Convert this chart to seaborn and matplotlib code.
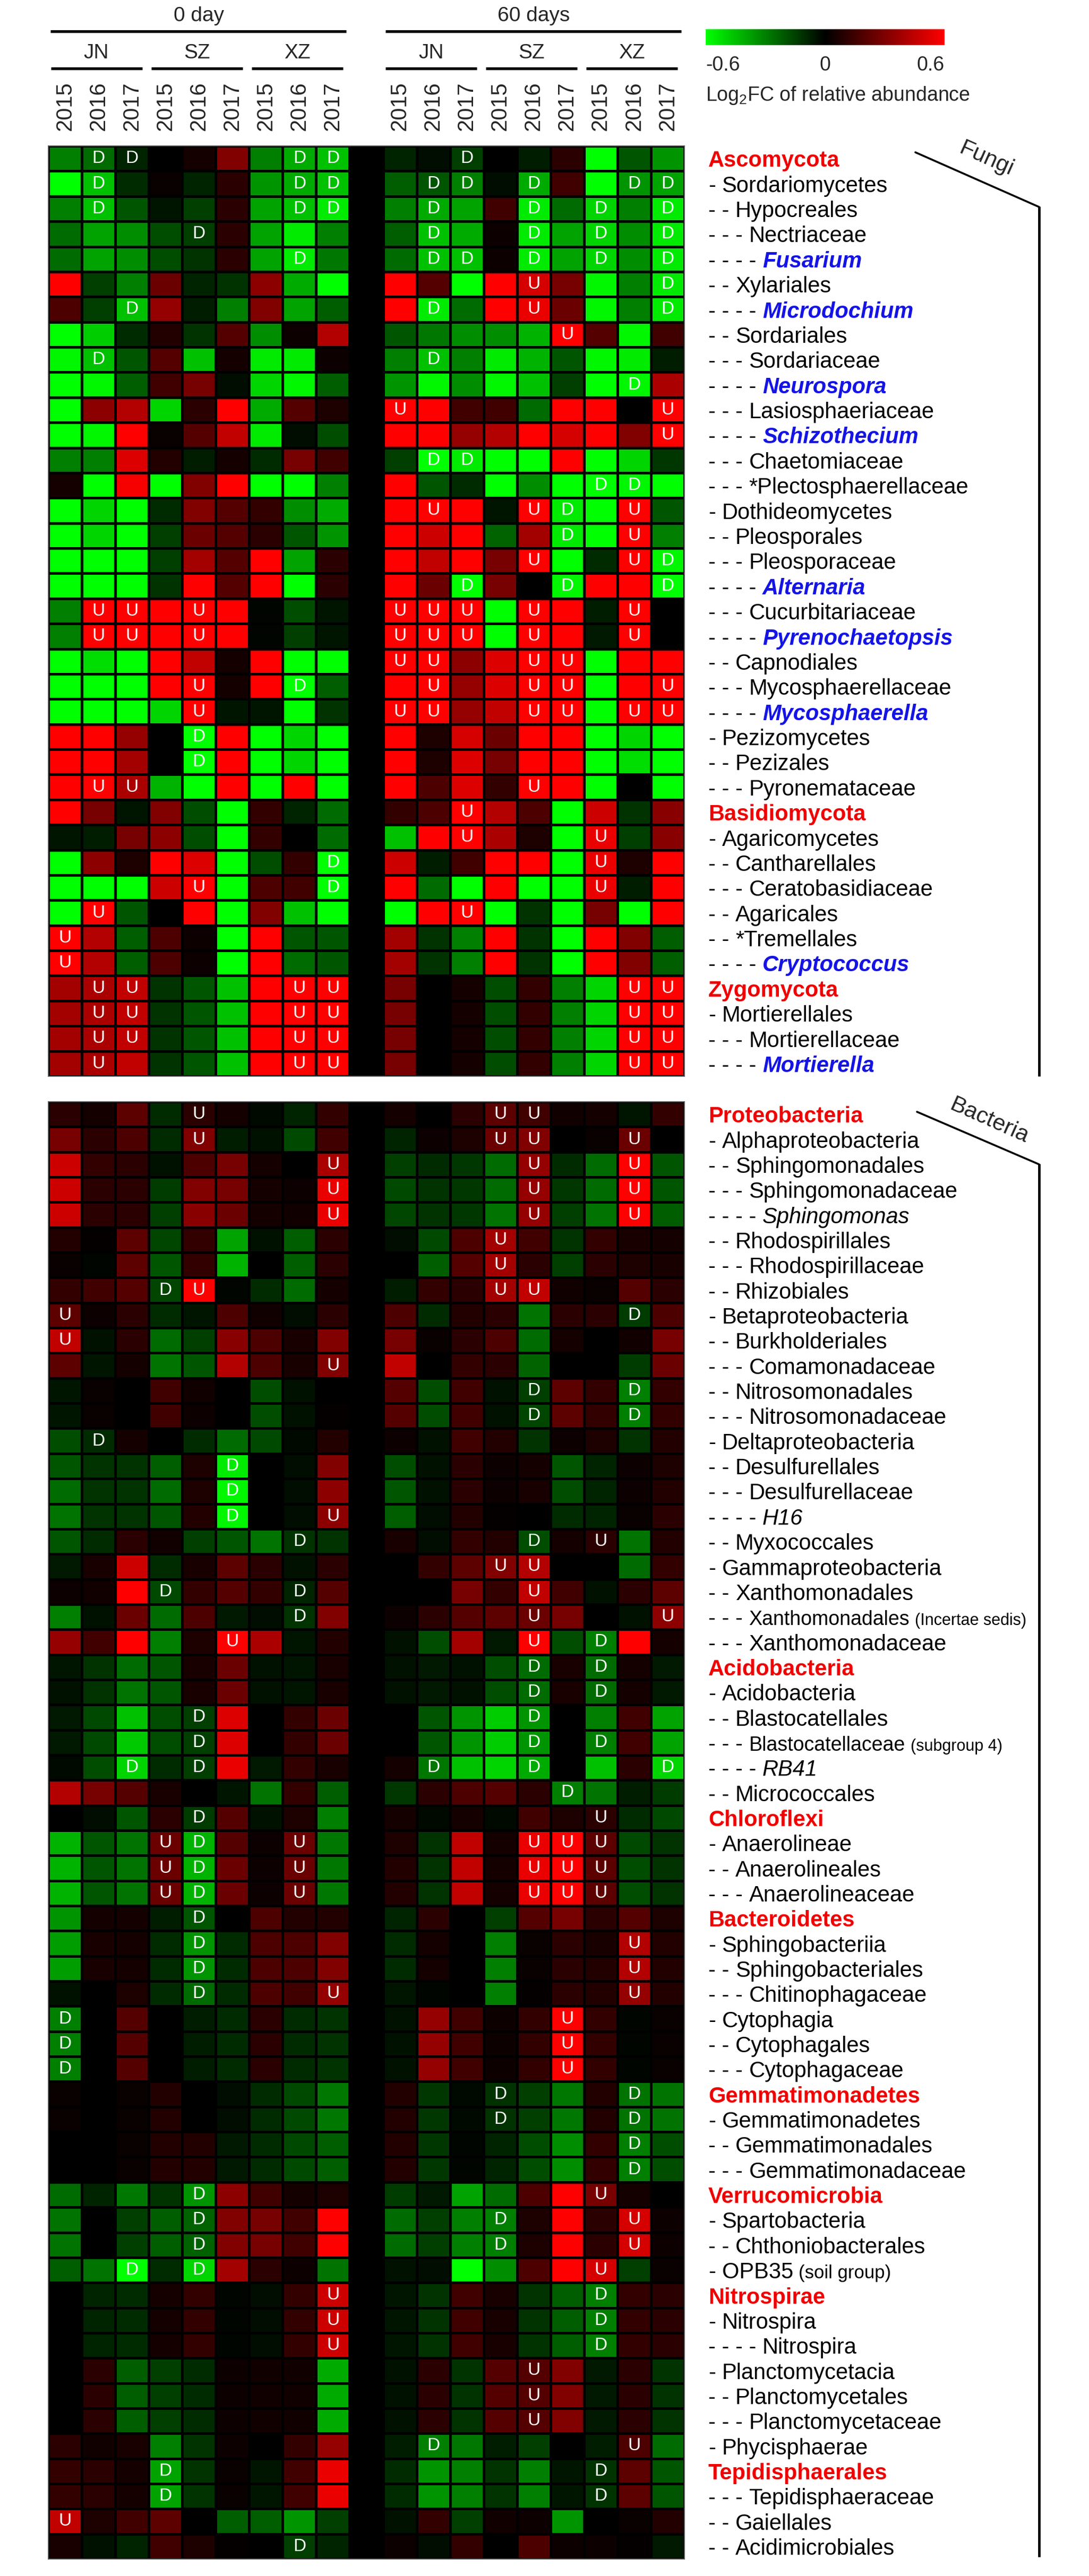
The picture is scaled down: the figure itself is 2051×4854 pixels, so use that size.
import numpy as np
import pandas as pd
import matplotlib
matplotlib.use("Agg")
import matplotlib.pyplot as plt
import seaborn as sns
from matplotlib.colors import LinearSegmentedColormap, Normalize
from matplotlib.lines import Line2D
import matplotlib.transforms as mtransforms
import matplotlib.colorbar as mcolorbar
from matplotlib import font_manager

# ---------------- data ----------------
days = ["0 day", "60 days"]
sites = ["JN", "SZ", "XZ"]
years = ["2015", "2016", "2017"]
cbar_ticks = ["-0.6", "0", "0.6"]

fungi_labels = [
    "Ascomycota", "- Sordariomycetes", "- - Hypocreales", "- - - Nectriaceae", "- - - - Fusarium",
    "- - Xylariales", "- - - - Microdochium", "- - Sordariales", "- - - Sordariaceae", "- - - - Neurospora",
    "- - - Lasiosphaeriaceae", "- - - - Schizothecium", "- - - Chaetomiaceae", "- - - *Plectosphaerellaceae",
    "- Dothideomycetes", "- - Pleosporales", "- - - Pleosporaceae", "- - - - Alternaria", "- - - Cucurbitariaceae",
    "- - - - Pyrenochaetopsis", "- - Capnodiales", "- - - Mycosphaerellaceae", "- - - - Mycosphaerella",
    "- Pezizomycetes", "- - Pezizales", "- - - Pyronemataceae", "Basidiomycota", "- Agaricomycetes",
    "- - Cantharellales", "- - - Ceratobasidiaceae", "- - Agaricales", "- - *Tremellales", "- - - - Cryptococcus",
    "Zygomycota", "- Mortierellales", "- - - Mortierellaceae", "- - - - Mortierella"]
fungi_kinds = "PNNNGNGNNG" + "NGNNNNNGNG" + "NNGNNNPNNN" + "NNGPNNG"

fungi_day0 = [
    [-0.30, -0.25, -0.08, 0.00, 0.05, 0.30, -0.30, -0.40, -0.45],
    [-0.60, -0.45, -0.10, 0.02, -0.08, 0.10, -0.35, -0.40, -0.45],
    [-0.30, -0.45, -0.20, -0.05, -0.15, 0.10, -0.38, -0.45, -0.55],
    [-0.25, -0.38, -0.33, -0.18, -0.15, 0.10, -0.38, -0.55, -0.30],
    [-0.25, -0.38, -0.33, -0.18, -0.12, 0.10, -0.38, -0.55, -0.28],
    [0.60, -0.15, -0.30, 0.25, -0.08, -0.12, 0.33, -0.40, -0.60],
    [0.18, -0.15, -0.45, 0.35, -0.07, -0.30, 0.30, -0.38, -0.22],
    [-0.60, -0.48, -0.10, 0.08, -0.12, 0.20, -0.33, 0.03, 0.42],
    [-0.58, -0.45, -0.20, 0.20, -0.45, 0.05, -0.55, -0.55, 0.03],
    [-0.60, -0.58, -0.22, 0.15, 0.28, -0.03, -0.50, -0.58, -0.22],
    [-0.60, 0.33, 0.42, -0.50, 0.10, 0.60, -0.40, 0.20, 0.07],
    [-0.60, -0.58, 0.60, 0.02, 0.20, 0.45, -0.55, -0.03, -0.18],
    [-0.30, -0.30, 0.52, 0.08, -0.07, 0.05, -0.10, 0.28, 0.15],
    [0.05, -0.60, 0.58, -0.60, 0.30, 0.60, -0.60, -0.60, -0.30],
    [-0.60, -0.50, -0.60, -0.10, 0.30, 0.20, 0.12, -0.33, -0.40],
    [-0.60, -0.50, -0.60, -0.15, 0.25, 0.20, 0.10, -0.20, -0.35],
    [-0.60, -0.60, -0.60, -0.15, 0.38, 0.20, 0.60, -0.38, 0.10],
    [-0.60, -0.60, -0.60, -0.12, 0.60, 0.20, 0.60, -0.60, 0.10],
    [-0.30, 0.60, 0.60, 0.60, 0.60, 0.60, -0.01, -0.18, -0.05],
    [-0.30, 0.60, 0.60, 0.60, 0.60, 0.60, -0.01, -0.15, -0.05],
    [-0.60, -0.52, -0.60, 0.60, 0.45, 0.05, 0.60, -0.60, -0.60],
    [-0.60, -0.60, -0.60, 0.60, 0.60, 0.05, 0.60, -0.60, -0.22],
    [-0.60, -0.60, -0.60, -0.50, 0.60, -0.05, -0.05, -0.60, -0.12],
    [0.60, 0.60, 0.35, 0.00, -0.60, 0.60, -0.60, -0.50, -0.60],
    [0.60, 0.60, 0.38, 0.00, -0.60, 0.60, -0.60, -0.50, -0.60],
    [0.60, 0.60, 0.40, -0.42, -0.60, 0.60, -0.60, 0.60, -0.60],
    [0.60, 0.28, -0.05, 0.30, -0.18, -0.60, 0.12, -0.08, -0.25],
    [-0.05, -0.07, 0.28, 0.33, -0.18, -0.60, 0.12, 0.00, -0.25],
    [-0.60, 0.33, 0.07, 0.60, 0.52, -0.60, -0.18, 0.12, -0.60],
    [-0.60, -0.60, -0.60, 0.48, 0.60, -0.60, 0.18, 0.15, -0.60],
    [-0.60, 0.60, -0.20, 0.00, 0.60, -0.60, 0.30, -0.45, -0.60],
    [0.60, 0.42, -0.22, 0.18, 0.03, -0.60, 0.60, -0.20, -0.20],
    [0.60, 0.42, -0.22, 0.18, 0.03, -0.60, 0.60, -0.25, -0.20],
    [0.38, 0.40, 0.45, -0.12, -0.20, -0.45, 0.60, 0.60, 0.60],
    [0.38, 0.40, 0.45, -0.12, -0.20, -0.45, 0.60, 0.60, 0.60],
    [0.38, 0.40, 0.45, -0.12, -0.20, -0.45, 0.60, 0.60, 0.60],
    [0.38, 0.40, 0.45, -0.12, -0.20, -0.45, 0.60, 0.60, 0.60]]

fungi_day60 = [
    [-0.08, -0.03, -0.15, 0.00, -0.07, 0.10, -0.60, -0.20, -0.35],
    [-0.22, -0.20, -0.30, -0.03, -0.40, 0.15, -0.60, -0.35, -0.38],
    [-0.30, -0.40, -0.38, 0.15, -0.55, -0.25, -0.50, -0.30, -0.55],
    [-0.22, -0.45, -0.40, 0.03, -0.55, -0.38, -0.50, -0.33, -0.55],
    [-0.25, -0.45, -0.45, 0.03, -0.55, -0.38, -0.50, -0.33, -0.55],
    [0.60, 0.20, -0.60, 0.60, 0.50, 0.28, -0.58, -0.30, -0.55],
    [0.60, -0.55, -0.25, 0.60, 0.55, 0.25, -0.58, -0.30, -0.55],
    [-0.20, -0.28, -0.33, -0.33, -0.42, 0.60, 0.20, -0.58, 0.15],
    [-0.30, -0.45, -0.30, -0.55, -0.42, -0.20, -0.58, -0.55, -0.07],
    [-0.35, -0.58, -0.33, -0.58, -0.45, -0.15, -0.60, -0.58, 0.40],
    [0.60, 0.60, 0.15, 0.15, -0.25, 0.60, 0.60, 0.00, 0.60],
    [0.60, 0.60, 0.35, 0.42, 0.60, 0.50, 0.60, 0.30, 0.60],
    [-0.15, -0.60, -0.55, -0.60, -0.60, 0.60, -0.60, -0.50, -0.13],
    [0.60, -0.20, -0.10, -0.60, -0.33, -0.60, -0.60, -0.58, -0.60],
    [0.60, 0.60, 0.60, -0.05, 0.60, -0.55, -0.60, 0.60, -0.20],
    [0.60, 0.48, 0.60, -0.23, 0.38, -0.55, -0.60, 0.60, -0.30],
    [0.60, 0.45, 0.60, 0.28, 0.60, -0.60, -0.10, 0.60, -0.58],
    [0.60, 0.25, -0.60, 0.28, 0.00, -0.58, 0.60, 0.60, -0.60],
    [0.60, 0.60, 0.60, -0.60, 0.60, 0.60, -0.07, 0.60, 0.00],
    [0.60, 0.60, 0.60, -0.60, 0.60, 0.60, -0.06, 0.60, 0.00],
    [0.60, 0.60, 0.33, 0.52, 0.60, 0.60, -0.60, 0.60, 0.60],
    [0.60, 0.60, 0.35, 0.52, 0.60, 0.60, -0.60, 0.60, 0.60],
    [0.60, 0.60, 0.35, 0.45, 0.60, 0.60, -0.60, 0.60, 0.60],
    [0.60, 0.07, 0.50, 0.25, 0.60, 0.60, -0.60, -0.50, -0.60],
    [0.60, 0.07, 0.52, 0.28, 0.60, 0.60, -0.60, -0.52, -0.60],
    [0.60, 0.18, 0.52, 0.12, 0.60, 0.60, -0.60, 0.00, -0.60],
    [0.12, 0.18, 0.60, 0.42, 0.18, -0.60, 0.48, -0.12, 0.32],
    [-0.45, 0.60, 0.60, 0.40, 0.07, -0.60, 0.55, -0.15, 0.32],
    [0.48, -0.07, 0.15, 0.60, 0.60, -0.60, 0.55, 0.07, 0.60],
    [0.60, -0.25, -0.60, 0.60, -0.60, -0.60, 0.55, -0.07, 0.60],
    [-0.60, 0.60, 0.60, -0.60, -0.12, -0.60, 0.28, -0.60, 0.60],
    [0.38, -0.12, -0.30, 0.60, -0.12, -0.60, 0.60, 0.30, -0.22],
    [0.38, -0.12, -0.30, 0.60, -0.12, -0.60, 0.60, 0.30, -0.22],
    [0.28, 0.00, 0.05, -0.18, 0.12, -0.30, -0.50, 0.60, 0.60],
    [0.28, 0.00, 0.05, -0.18, 0.12, -0.30, -0.50, 0.60, 0.60],
    [0.28, 0.00, 0.05, -0.18, 0.12, -0.30, -0.50, 0.60, 0.60],
    [0.28, 0.00, 0.05, -0.18, 0.12, -0.30, -0.50, 0.60, 0.60]]

# significance marks: U = up, D = down, . = none
fungi_sig0 = [".DD....DD", ".D.....DD", ".D.....DD", "....D....", ".......D.", ".........", "..D......",
              ".........", ".D.......", ".........", ".........", ".........", ".........", ".........",
              ".........", ".........", ".........", ".........", ".UU.U....", ".UU.U....", ".........",
              "....U..D.", "....U....", "....D....", "....D....", ".UU......", ".........", ".........",
              "........D", "....U...D", ".U.......", "U........", "U........", ".UU....UU", ".UU....UU",
              ".UU....UU", ".U.....UU"]
fungi_sig60 = ["..D......", ".DD.D..DD", ".D..D.D.D", ".D..D.D.D", ".DD.D.D.D", "....U...D", ".D..U...D",
               ".....U...", ".D.......", ".......D.", "U.......U", "........U", ".DD......", "......DD.",
               ".U..UD.U.", ".....D.U.", "....U..UD", "..D..D..D", "UUU.U..U.", "UUU.U..U.", "UU..UU...",
               ".U..UU..U", "UU..UU.UU", ".........", ".........", "....U....", "..U......", "..U...U..",
               "......U..", "......U..", "..U......", ".........", ".........", ".......UU", ".......UU",
               ".......UU", ".......UU"]

bact_labels = [
    "Proteobacteria", "- Alphaproteobacteria", "- - Sphingomonadales", "- - - Sphingomonadaceae",
    "- - - - Sphingomonas", "- - Rhodospirillales", "- - - Rhodospirillaceae", "- - Rhizobiales",
    "- Betaproteobacteria", "- - Burkholderiales", "- - - Comamonadaceae", "- - Nitrosomonadales",
    "- - - Nitrosomonadaceae", "- Deltaproteobacteria", "- - Desulfurellales", "- - - Desulfurellaceae",
    "- - - - H16", "- - Myxococcales", "- Gammaproteobacteria", "- - Xanthomonadales",
    "- - - Xanthomonadales (Incertae sedis)", "- - - Xanthomonadaceae", "Acidobacteria", "- Acidobacteria",
    "- - Blastocatellales", "- - - Blastocatellaceae (subgroup 4)", "- - - - RB41", "- - Micrococcales",
    "Chloroflexi", "- Anaerolineae", "- - Anaerolineales", "- - - Anaerolineaceae", "Bacteroidetes",
    "- Sphingobacteriia", "- - Sphingobacteriales", "- - - Chitinophagaceae", "- Cytophagia",
    "- - Cytophagales", "- - - Cytophagaceae", "Gemmatimonadetes", "- Gemmatimonadetes",
    "- - Gemmatimonadales", "- - - Gemmatimonadaceae", "Verrucomicrobia", "- Spartobacteria",
    "- - Chthoniobacterales", "- OPB35 (soil group)", "Nitrospirae", "- Nitrospira", "- - - - Nitrospira",
    "- Planctomycetacia", "- - Planctomycetales", "- - - Planctomycetaceae", "- Phycisphaerae",
    "Tepidisphaerales", "- - - Tepidisphaeraceae", "- - Gaiellales", "- - Acidimicrobiales"]
bact_kinds = "PNNNINNNNN" + "NNNNNNINNN" + "NNPNNNINPN" + "NNPNNNNNNP" + "NNNPNNNPNN" + "NNNNPNNN"

bact_day0 = [
    [0.10, 0.05, 0.22, -0.10, 0.10, 0.05, -0.02, -0.08, 0.12],
    [0.28, 0.10, 0.18, -0.10, 0.30, -0.07, -0.04, -0.17, 0.15],
    [0.48, 0.12, 0.10, -0.04, 0.18, 0.28, 0.05, 0.00, 0.40],
    [0.48, 0.10, 0.10, -0.14, 0.30, 0.28, 0.05, 0.03, 0.55],
    [0.48, 0.10, 0.10, -0.15, 0.32, 0.25, 0.05, 0.04, 0.55],
    [0.08, 0.01, 0.22, -0.16, 0.12, -0.38, -0.04, -0.22, 0.10],
    [0.02, -0.01, 0.22, -0.20, 0.12, -0.42, 0.00, -0.22, 0.10],
    [0.12, 0.15, 0.20, -0.16, 0.60, -0.01, -0.10, -0.25, 0.05],
    [0.22, 0.03, 0.10, -0.10, -0.05, 0.18, 0.04, -0.03, 0.10],
    [0.45, -0.04, 0.10, -0.25, -0.15, 0.32, 0.18, 0.06, 0.30],
    [0.22, -0.05, 0.05, -0.27, -0.20, 0.42, 0.18, 0.06, 0.30],
    [-0.05, 0.02, 0.00, 0.15, 0.04, 0.00, -0.18, -0.04, 0.00],
    [-0.05, 0.02, 0.00, 0.15, 0.03, 0.00, -0.18, -0.04, 0.01],
    [-0.18, -0.10, 0.05, 0.00, -0.10, -0.25, -0.17, -0.02, 0.08],
    [-0.20, -0.12, -0.12, -0.22, 0.07, -0.55, 0.00, -0.03, 0.30],
    [-0.25, -0.12, -0.12, -0.25, 0.07, -0.58, 0.00, -0.03, 0.33],
    [-0.27, -0.12, -0.12, -0.20, 0.08, -0.58, 0.00, -0.03, 0.33],
    [-0.20, -0.10, 0.10, 0.04, -0.15, -0.20, -0.27, -0.12, -0.12],
    [-0.06, 0.06, 0.48, -0.10, 0.06, 0.22, 0.10, -0.04, 0.10],
    [0.03, 0.04, 0.60, -0.17, 0.12, 0.20, 0.12, -0.08, 0.20],
    [-0.30, -0.04, 0.25, -0.25, 0.18, -0.06, -0.03, -0.12, 0.30],
    [0.35, 0.15, 0.60, -0.30, 0.07, 0.60, 0.40, -0.05, 0.08],
    [-0.05, -0.12, -0.25, -0.20, 0.06, 0.25, -0.04, -0.05, 0.06],
    [-0.04, -0.12, -0.27, -0.20, 0.06, 0.25, -0.04, -0.05, 0.06],
    [-0.06, -0.17, -0.45, -0.18, -0.15, 0.52, 0.00, 0.12, 0.25],
    [-0.06, -0.17, -0.47, -0.18, -0.15, 0.52, 0.00, 0.12, 0.25],
    [-0.02, -0.18, -0.50, -0.10, -0.15, 0.55, -0.06, 0.12, 0.06],
    [0.42, 0.28, 0.20, 0.06, 0.00, -0.05, -0.27, 0.12, -0.22],
    [0.00, -0.03, -0.20, 0.10, -0.14, 0.20, -0.04, 0.07, -0.30],
    [-0.42, -0.20, -0.27, 0.25, -0.42, 0.20, 0.03, 0.25, -0.28],
    [-0.42, -0.20, -0.27, 0.25, -0.42, 0.25, 0.03, 0.25, -0.28],
    [-0.42, -0.20, -0.27, 0.25, -0.42, 0.25, 0.03, 0.25, -0.28],
    [-0.35, 0.05, 0.05, -0.07, -0.20, 0.00, 0.18, 0.08, 0.08],
    [-0.37, 0.06, 0.05, -0.10, -0.35, -0.10, 0.18, 0.18, 0.30],
    [-0.37, 0.06, 0.05, -0.10, -0.35, -0.10, 0.18, 0.18, 0.30],
    [-0.04, 0.00, 0.07, -0.10, -0.25, -0.10, 0.18, 0.15, 0.35],
    [-0.30, 0.00, 0.20, 0.00, -0.07, -0.10, 0.10, -0.10, -0.12],
    [-0.30, 0.00, 0.20, 0.00, -0.07, -0.10, 0.10, -0.10, -0.12],
    [-0.30, 0.00, 0.20, 0.00, -0.07, -0.10, 0.10, -0.10, -0.12],
    [0.02, 0.00, 0.02, 0.08, 0.00, -0.03, -0.10, -0.17, -0.28],
    [0.02, 0.00, 0.02, 0.08, 0.00, -0.03, -0.10, -0.17, -0.28],
    [0.00, 0.00, 0.02, 0.08, 0.08, -0.06, -0.10, -0.17, -0.22],
    [0.00, 0.00, 0.02, 0.08, 0.08, -0.06, -0.10, -0.17, -0.22],
    [-0.25, -0.08, -0.28, -0.12, -0.35, 0.33, 0.15, 0.05, 0.07],
    [-0.27, 0.00, -0.15, -0.22, -0.23, 0.30, 0.28, 0.15, 0.60],
    [-0.27, 0.00, -0.15, -0.22, -0.23, 0.30, 0.28, 0.15, 0.60],
    [-0.22, -0.27, -0.60, -0.10, -0.50, 0.38, 0.10, 0.03, -0.27],
    [0.00, -0.08, -0.10, 0.05, 0.12, -0.01, -0.03, 0.12, 0.48],
    [0.00, -0.08, -0.10, 0.05, 0.12, -0.01, -0.03, 0.12, 0.48],
    [0.00, -0.08, -0.10, 0.05, 0.12, -0.01, -0.03, 0.12, 0.48],
    [0.00, 0.10, -0.22, -0.15, -0.10, 0.03, 0.04, 0.04, -0.40],
    [0.00, 0.10, -0.22, -0.15, -0.10, 0.03, 0.04, 0.04, -0.40],
    [0.00, 0.10, -0.22, -0.15, -0.10, 0.03, 0.04, 0.04, -0.40],
    [0.10, 0.04, 0.06, -0.30, -0.12, 0.03, 0.00, 0.12, 0.35],
    [0.12, 0.10, 0.05, -0.38, -0.12, 0.02, -0.05, 0.15, 0.55],
    [0.12, 0.10, 0.05, -0.38, -0.12, 0.02, -0.05, 0.15, 0.55],
    [0.45, 0.07, 0.15, 0.22, 0.00, -0.22, -0.22, -0.35, -0.15],
    [0.06, -0.04, -0.08, 0.15, 0.07, 0.01, 0.00, -0.15, -0.08]]

bact_day60 = [
    [0.05, 0.00, 0.10, 0.22, 0.15, 0.04, 0.05, -0.05, 0.12],
    [-0.08, 0.03, 0.07, 0.25, 0.30, 0.00, 0.02, 0.25, 0.00],
    [-0.15, -0.10, -0.13, -0.25, 0.35, -0.10, -0.25, 0.60, -0.20],
    [-0.17, -0.12, -0.13, -0.25, 0.35, -0.13, -0.25, 0.60, -0.20],
    [-0.16, -0.12, -0.13, -0.27, 0.35, -0.15, -0.27, 0.60, -0.22],
    [-0.03, -0.17, 0.18, 0.38, 0.15, -0.12, 0.12, 0.06, 0.05],
    [0.00, -0.22, 0.20, 0.38, 0.10, -0.15, 0.10, 0.07, 0.06],
    [-0.07, 0.12, 0.10, 0.38, 0.45, 0.04, 0.02, 0.20, 0.10],
    [0.18, -0.10, 0.08, 0.10, -0.27, 0.10, 0.10, -0.14, 0.18],
    [0.28, 0.02, 0.10, 0.18, -0.25, 0.05, 0.00, 0.04, 0.28],
    [0.45, 0.00, 0.12, 0.10, -0.23, 0.00, 0.00, -0.14, 0.25],
    [0.20, -0.18, 0.15, -0.04, -0.15, 0.22, 0.12, -0.30, 0.12],
    [0.20, -0.18, 0.15, -0.04, -0.16, 0.22, 0.12, -0.30, 0.12],
    [0.03, -0.04, 0.15, 0.08, -0.12, 0.03, 0.07, -0.12, 0.08],
    [-0.18, -0.04, 0.10, 0.03, 0.05, -0.20, -0.08, 0.03, 0.07],
    [-0.20, -0.04, 0.10, 0.03, 0.06, -0.18, -0.08, 0.03, 0.08],
    [-0.22, -0.03, 0.08, 0.01, 0.00, -0.10, -0.08, 0.02, 0.10],
    [0.06, -0.03, 0.12, 0.08, -0.18, 0.05, 0.10, -0.27, 0.08],
    [0.00, 0.12, 0.22, 0.30, 0.42, 0.00, 0.00, -0.25, 0.12],
    [0.00, 0.00, 0.28, 0.12, 0.45, 0.15, -0.04, 0.10, 0.22],
    [0.03, 0.10, 0.20, 0.22, 0.25, 0.28, 0.00, -0.04, 0.33],
    [-0.04, -0.18, 0.38, -0.06, 0.60, -0.18, -0.30, 0.60, 0.05],
    [-0.04, -0.06, -0.04, -0.18, -0.25, 0.06, -0.25, 0.05, -0.06],
    [-0.04, -0.06, -0.04, -0.18, -0.25, 0.06, -0.25, 0.05, -0.06],
    [0.00, -0.20, -0.35, -0.48, -0.35, 0.00, -0.30, 0.15, -0.38],
    [0.00, -0.20, -0.35, -0.48, -0.35, 0.00, -0.30, 0.15, -0.38],
    [0.05, -0.28, -0.45, -0.50, -0.40, 0.00, -0.45, 0.10, -0.50],
    [-0.13, 0.10, 0.18, 0.20, 0.10, -0.30, -0.27, -0.07, -0.14],
    [0.05, -0.02, 0.05, -0.02, 0.15, 0.07, 0.10, -0.10, -0.17],
    [0.07, -0.12, 0.45, 0.05, 0.55, 0.60, 0.22, -0.17, -0.12],
    [0.08, -0.12, 0.45, 0.05, 0.55, 0.60, 0.22, -0.18, -0.12],
    [0.08, -0.12, 0.45, 0.05, 0.55, 0.60, 0.22, -0.18, -0.12],
    [-0.08, 0.10, 0.00, -0.15, 0.20, 0.28, 0.10, 0.20, 0.07],
    [-0.10, 0.05, 0.00, -0.30, 0.02, 0.10, 0.06, 0.42, 0.08],
    [-0.10, 0.05, 0.00, -0.30, 0.02, 0.10, 0.08, 0.42, 0.08],
    [-0.05, -0.01, 0.00, -0.30, 0.01, 0.10, 0.08, 0.35, 0.08],
    [-0.04, 0.35, 0.15, 0.03, 0.12, 0.60, 0.12, -0.01, 0.02],
    [-0.04, 0.35, 0.15, 0.03, 0.12, 0.60, 0.12, -0.01, 0.02],
    [-0.04, 0.35, 0.15, 0.03, 0.12, 0.60, 0.12, -0.01, 0.02],
    [0.08, -0.13, -0.02, -0.12, -0.15, -0.28, 0.08, -0.27, -0.27],
    [0.08, -0.13, -0.02, -0.12, -0.15, -0.28, 0.08, -0.27, -0.27],
    [0.08, -0.13, -0.01, -0.08, -0.18, -0.33, 0.12, -0.30, -0.18],
    [0.08, -0.13, -0.01, -0.08, -0.18, -0.33, 0.12, -0.30, -0.18],
    [-0.14, -0.06, -0.38, -0.25, 0.18, 0.60, 0.28, 0.05, 0.00],
    [-0.25, -0.15, -0.30, -0.30, 0.07, 0.60, 0.10, 0.50, 0.03],
    [-0.25, -0.15, -0.30, -0.30, 0.07, 0.60, 0.10, 0.50, 0.03],
    [-0.04, -0.03, -0.60, -0.33, 0.18, 0.60, 0.50, -0.15, 0.02],
    [-0.05, -0.12, 0.15, 0.06, -0.12, -0.22, -0.30, 0.12, 0.10],
    [-0.05, -0.12, 0.15, 0.06, -0.12, -0.22, -0.30, 0.12, 0.10],
    [-0.05, -0.12, 0.15, 0.06, -0.12, -0.22, -0.30, 0.12, 0.10],
    [-0.04, 0.10, -0.12, 0.20, 0.20, 0.30, -0.06, 0.10, -0.12],
    [-0.04, 0.10, -0.12, 0.20, 0.20, 0.30, -0.06, 0.10, -0.12],
    [-0.04, 0.10, -0.12, 0.20, 0.20, 0.30, -0.06, 0.10, -0.12],
    [-0.07, -0.30, -0.28, -0.07, -0.15, 0.00, -0.07, 0.18, -0.25],
    [-0.10, -0.35, -0.30, -0.12, -0.30, -0.05, -0.12, 0.22, -0.20],
    [-0.10, -0.35, -0.30, -0.12, -0.30, -0.05, -0.12, 0.22, -0.20],
    [-0.04, 0.12, -0.15, 0.04, 0.03, -0.35, 0.00, 0.02, 0.08],
    [0.03, -0.03, 0.12, 0.00, 0.18, 0.03, 0.03, 0.01, -0.06]]

bact_sig0 = ["....U....", "....U....", "........U", "........U", "........U", ".........", ".........",
             "...DU....", "U........", "U........", "........U", ".........", ".........", ".D.......",
             ".....D...", ".....D...", ".....D..U", ".......D.", ".........", "...D...D.", ".......D.",
             ".....U...", ".........", ".........", "....D....", "....D....", "..D.D....", ".........",
             "....D....", "...UD..U.", "...UD..U.", "...UD..U.", "....D....", "....D....", "....D....",
             "....D...U", "D........", "D........", "D........", ".........", ".........", ".........",
             ".........", "....D....", "....D....", "....D....", "..D.D....", "........U", "........U",
             "........U", ".........", ".........", ".........", ".........", "...D.....", "...D.....",
             "U........", ".......D."]
bact_sig60 = ["...UU....", "...UU..U.", "....U..U.", "....U..U.", "....U..U.", "...U.....", "...U.....",
              "...UU....", ".......D.", ".........", ".........", "....D..D.", "....D..D.", ".........",
              ".........", ".........", ".........", "....D.U..", "...UU....", "....U....", "....U...U",
              "....U.D..", "....D.D..", "....D.D..", "....D....", "....D.D..", ".D..D...D", ".....D...",
              "......U..", "....UUU..", "....UUU..", "....UUU..", ".........", ".......U.", ".......U.",
              ".......U.", ".....U...", ".....U...", ".....U...", "...D...D.", "...D...D.", ".......D.",
              ".......D.", "......U..", "...D...U.", "...D...U.", "......U..", "......D..", "......D..",
              "......D..", "....U....", "....U....", "....U....", ".D.....U.", "......D..", "......D..",
              ".........", "........."]

# ---------------- styling / layout ----------------
sns.set_theme(style="white")
plt.rcParams["font.family"] = ["Liberation Sans", "DejaVu Sans"]
plt.rcParams["mathtext.fontset"] = "custom"
plt.rcParams["mathtext.rm"] = "Liberation Sans"
plt.rcParams["mathtext.it"] = "Liberation Sans:italic"
plt.rcParams["mathtext.bf"] = "Liberation Sans:bold"

installed = {f.name for f in font_manager.fontManager.ttflist}
mark_family = ["Liberation Sans Narrow"] if "Liberation Sans Narrow" in installed else ["Liberation Sans"]

W, H = 2051, 4854
fig = plt.figure(figsize=(W / 100, H / 100), dpi=100)
fig.patch.set_facecolor("white")


def fx(px):
    return px / W


def fy(py):
    return 1 - py / H


cmap = LinearSegmentedColormap.from_list("gkr", ["#00FF00", "#000000", "#FF0000"])
HM_L, HM_R = 91, 1289
NCOL = 19
CW = (HM_R - HM_L) / NCOL
LABEL_X = 1334
DASH_W = 25.5

columns = [f"{days[0]} {s} {y}" for s in sites for y in years] + ["gap"] + \
          [f"{days[1]} {s} {y}" for s in sites for y in years]


def sig_row(s):
    return [c if c in "UD" else "" for c in s]


def draw_panel(top, bottom, labels, kinds, d0, d60, s0, s60):
    n = len(labels)
    vals = np.hstack([np.array(d0), np.full((n, 1), np.nan), np.array(d60)])
    ann = np.array([sig_row(a) + [""] + sig_row(b) for a, b in zip(s0, s60)])
    df = pd.DataFrame(vals, columns=columns)
    ax = fig.add_axes([fx(HM_L), fy(bottom), (HM_R - HM_L) / W, (bottom - top) / H])
    ax.set_facecolor("black")
    sns.heatmap(df, ax=ax, cmap=cmap, vmin=-0.6, vmax=0.6, cbar=False,
                linewidths=2.2, linecolor="black", annot=ann, fmt="",
                annot_kws={"color": "white", "fontsize": 24, "family": mark_family},
                xticklabels=False, yticklabels=False)
    ax.set_xlabel("")
    ax.set_ylabel("")
    for sp in ax.spines.values():
        sp.set_visible(True)
        sp.set_color("#555555")
        sp.set_linewidth(1.2)

    trans = mtransforms.blended_transform_factory(fig.transFigure, ax.transData)
    renderer = fig.canvas.get_renderer()
    for i, (lab, kind) in enumerate(zip(labels, kinds)):
        yb = i + 0.5 + 0.33
        nd = 0
        rest = lab
        while rest.startswith("- "):
            nd += 1
            rest = rest[2:]
        if nd:
            ax.text(fx(LABEL_X), yb, " ".join(["-"] * nd), transform=trans, fontsize=30,
                    va="baseline", ha="left", color="black")
        xn = LABEL_X + DASH_W * nd
        kw = dict(fontsize=30, color="black")
        if kind == "P":
            kw.update(color="#F00000", fontweight="bold")
        elif kind == "G":
            kw.update(color="#1414E6", fontweight="bold", fontstyle="italic")
        elif kind == "I":
            kw.update(fontstyle="italic")
        main, paren = rest, ""
        paren_size = 22
        if " (" in rest:
            main, paren = rest.split(" (", 1)
            paren = "(" + paren
            if len(main) > 12:
                kw["fontsize"] = 27
            else:
                paren_size = 25
        t = ax.text(fx(xn), yb, main, transform=trans, va="baseline", ha="left", **kw)
        if paren:
            bb = t.get_window_extent(renderer=renderer)
            ax.text(fx(bb.x1 + 10), yb, paren, transform=trans, va="baseline", ha="left",
                    fontsize=paren_size, color="black")
    return ax


draw_panel(275, 2028, fungi_labels, fungi_kinds, fungi_day0, fungi_day60, fungi_sig0, fungi_sig60)
draw_panel(2076, 4822, bact_labels, bact_kinds, bact_day0, bact_day60, bact_sig0, bact_sig60)


def hline(x1, x2, y, lw=3.6):
    fig.add_artist(Line2D([fx(x1), fx(x2)], [fy(y), fy(y)], transform=fig.transFigure,
                          color="black", lw=lw, solid_capstyle="butt"))


def col_center(j):
    return HM_L + (j + 0.5) * CW


# header: day labels, sites, years
for k, d in enumerate(days):
    c0 = 0 if k == 0 else 10
    left = HM_L + c0 * CW
    right = left + 9 * CW
    fig.text(fx((left + right) / 2), fy(40), d, ha="center", va="baseline", fontsize=28)
    hline(left + 4, right - 6, 59, lw=3.8)
    for si, s in enumerate(sites):
        g_l = left + si * 3 * CW
        g_c = g_l + 1.5 * CW - 4
        fig.text(fx(g_c), fy(110), s, ha="center", va="baseline", fontsize=28)
        hline(g_c - 86, g_c + 86, 129, lw=3.8)
        for yi, yr in enumerate(years):
            j = c0 + si * 3 + yi
            fig.text(fx(col_center(j)), fy(200), yr, rotation=90, ha="center", va="center", fontsize=30)

# colour bar
cax = fig.add_axes([fx(1329), fy(85), 450 / W, 30 / H])
cb = mcolorbar.ColorbarBase(cax, cmap=cmap, norm=Normalize(-0.6, 0.6), orientation="horizontal")
cb.set_ticks([])
cb.outline.set_visible(False)
fig.text(fx(1329), fy(133), cbar_ticks[0], ha="left", va="baseline", fontsize=27)
fig.text(fx(1554), fy(133), cbar_ticks[1], ha="center", va="baseline", fontsize=27)
fig.text(fx(1779), fy(133), cbar_ticks[2], ha="right", va="baseline", fontsize=27)
fig.text(fx(1329), fy(190), r"Log$_2$FC of relative abundance", ha="left", va="baseline", fontsize=27)

# kingdom brackets
for (x1, y1, x2, y2, yend, name, tx, ty) in [
        (1724, 287, 1957, 390, 2028, "Fungi", 1858, 300),
        (1727, 2095, 1957, 2194, 4818, "Bacteria", 1863, 2112)]:
    fig.add_artist(Line2D([fx(x1), fx(x2)], [fy(y1), fy(y2)], transform=fig.transFigure,
                          color="black", lw=2.6))
    fig.add_artist(Line2D([fx(x2), fx(x2)], [fy(y2 - 1), fy(yend)], transform=fig.transFigure,
                          color="black", lw=3.4, solid_capstyle="butt"))
    fig.text(fx(tx), fy(ty), name, rotation=-24, ha="center", va="center", fontsize=31,
             rotation_mode="anchor")

fig.savefig("out.png", dpi=100, facecolor="white")
